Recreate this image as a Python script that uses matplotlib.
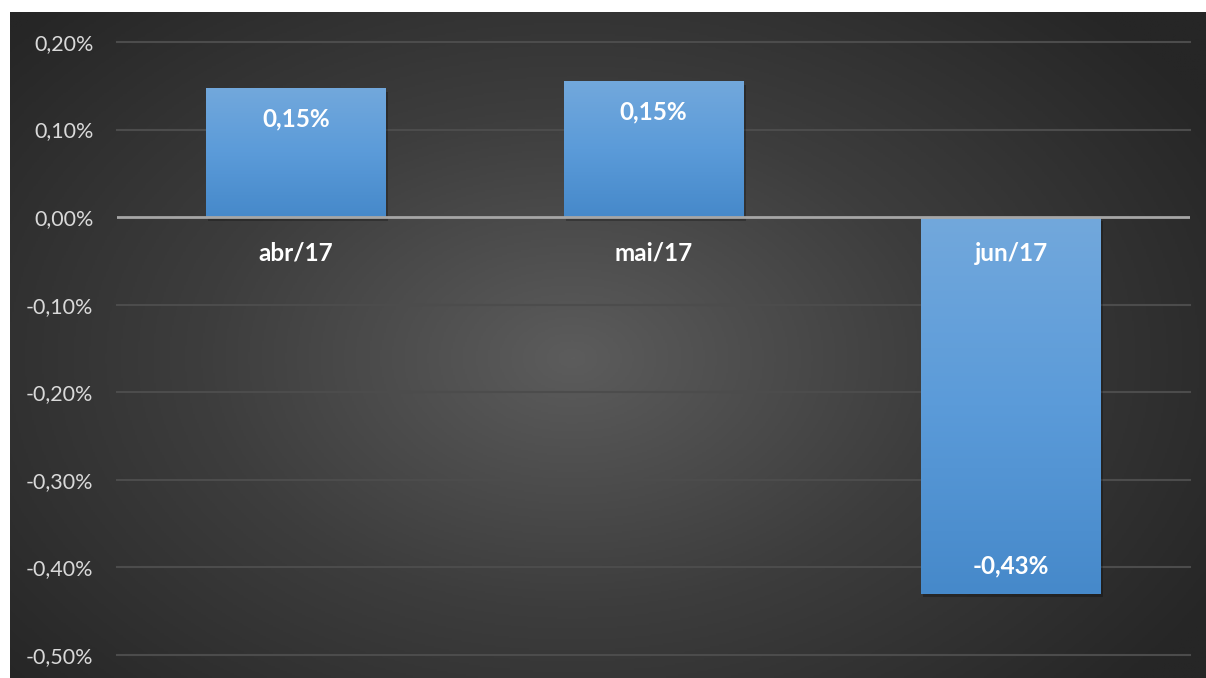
import numpy as np
import matplotlib
matplotlib.use('Agg')
import matplotlib.pyplot as plt
from matplotlib.colors import LinearSegmentedColormap
from matplotlib.patches import Rectangle

# data
months = ['abr/17', 'mai/17', 'jun/17']
values = [0.147, 0.155, -0.43]
yticks = [-0.5, -0.4, -0.3, -0.2, -0.1, 0.0, 0.1, 0.2]
value_labels = ['0,15%', '0,15%', '-0,43%']

plt.rcParams['font.family'] = ['Lato', 'DejaVu Sans']

W, H = 1206, 678
fig = plt.figure(figsize=(W / 100, H / 100), dpi=100)
fig.patch.set_facecolor('white')

# dark panel with radial gradient
bg = fig.add_axes([10 / W, 0, (W - 10) / W, (H - 12) / H])
bg.set_axis_off()
yy, xx = np.mgrid[0:1:400j, 0:1:700j]
r = np.sqrt(((xx - 0.47) / 0.62) ** 2 + ((yy - 0.52) / 0.75) ** 2)
r = np.clip(r, 0, 1)
grey = LinearSegmentedColormap.from_list('bgc', ['#5c5c5c', '#3d3d3d', '#262626'])
bg.imshow(r, cmap=grey, aspect='auto', extent=[0, 1, 0, 1], vmin=0, vmax=1)
bg.set_xlim(0, 1)
bg.set_ylim(0, 1)

# main axes
ax = fig.add_axes([117 / W, (H - 655) / H, (1190 - 117) / W, (655 - 42) / H])
ax.patch.set_alpha(0)
ax.set_xlim(-0.5, 2.5)
ax.set_ylim(-0.5, 0.2)
for s in ax.spines.values():
    s.set_visible(False)

for t in yticks:
    if t != 0:
        ax.axhline(t, color='#4c4c4c', lw=1.5, zorder=1, clip_on=False)

x = np.arange(len(months))
bars = ax.bar(x, values, width=0.503, color='none', zorder=3)

blue = LinearSegmentedColormap.from_list('barc', ['#4689ca', '#5b9bd9', '#72a8dc'])
grad = np.linspace(0, 1, 256).reshape(-1, 1)
for rect in bars:
    x0, y0 = rect.get_x(), rect.get_y()
    w, h = rect.get_width(), rect.get_height()
    ylo, yhi = min(y0, y0 + h), max(y0, y0 + h)
    # soft shadow
    ax.add_patch(Rectangle((x0 + 0.006, ylo - 0.004), w, yhi - ylo,
                           facecolor='black', alpha=0.25, lw=0, zorder=2))
    im = ax.imshow(grad, cmap=blue, origin='lower', aspect='auto',
                   extent=[x0, x0 + w, ylo, yhi], zorder=3)
    im.set_clip_path(rect)

ax.axhline(0, color='#a6a6a6', lw=2, zorder=4)
ax.set_xlim(-0.5, 2.5)
ax.set_ylim(-0.5, 0.2)

# value labels inside bar ends
for xi, v, lab in zip(x, values, value_labels):
    off = -22 if v > 0 else 20
    ax.annotate(lab, (xi, v), xytext=(0, off), textcoords='offset points',
                ha='center', va='center', color='white', fontsize=17.5,
                fontweight='bold', zorder=5)
    # category label just below the zero line
    ax.annotate(months[xi], (xi, 0), xytext=(0, -26), textcoords='offset points',
                ha='center', va='center', color='white', fontsize=17.5,
                fontweight='bold', zorder=5)

ax.set_xticks([])
ax.set_yticks(yticks)
ax.set_yticklabels([f'{t:.2f}%'.replace('.', ',') for t in yticks],
                   color='#d9d9d9', fontsize=15.5)
ax.tick_params(axis='y', length=0, pad=17)

plt.savefig('out.png', dpi=100, facecolor='white')
